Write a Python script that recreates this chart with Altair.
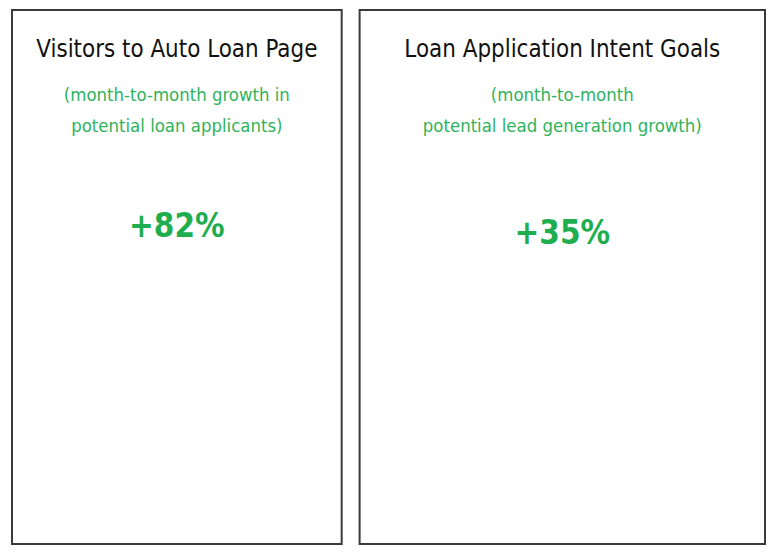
import altair as alt
import pandas as pd

# ---- data ----
titles = ["Visitors to Auto Loan Page", "Loan Application Intent Goals"]
subtitle_line1 = ["(month-to-month growth in", "(month-to-month"]
subtitle_line2 = ["potential loan applicants)", "potential lead generation growth)"]
growth_pct = [82, 35]

# ---- layout / style ----
FONT = "DejaVu Sans Condensed, sans-serif"
panel_widths = [331, 407]
panel_height = 536
value_baseline = [228, 235]
GREEN_SUB = "#2fb35c"
GREEN_VAL = "#1fae4f"


def panel(i):
    df = pd.DataFrame({
        "title": [titles[i]],
        "sub": [subtitle_line1[i] + "\n" + subtitle_line2[i]],
        "value": [growth_pct[i]],
    })
    w = panel_widths[i]
    base = alt.Chart(df)
    title = base.mark_text(font=FONT, fontSize=24, color="#111111",
                           baseline="alphabetic", align="center").encode(
        x=alt.value(w / 2), y=alt.value(47), text="title:N")
    sub = base.mark_text(font=FONT, fontSize=18.5, color=GREEN_SUB,
                         baseline="alphabetic", align="center",
                         lineBreak="\n", lineHeight=31).encode(
        x=alt.value(w / 2), y=alt.value(91), text="sub:N")
    val = base.transform_calculate(
        label="'+' + datum.value + '%'"
    ).mark_text(font=FONT, fontSize=33, fontWeight="bold", color=GREEN_VAL,
                baseline="alphabetic", align="center").encode(
        x=alt.value(w / 2), y=alt.value(value_baseline[i]), text="label:N")
    return alt.layer(title, sub, val).properties(width=w, height=panel_height)


chart = alt.hconcat(panel(0), panel(1), spacing=16).properties(
    padding={"left": 3, "top": 0, "right": 0, "bottom": 0},
    background="white",
).configure_view(stroke="#3a3a3a", strokeWidth=2)

chart.save("out.html", embed_options={"renderer": "svg", "actions": False})
